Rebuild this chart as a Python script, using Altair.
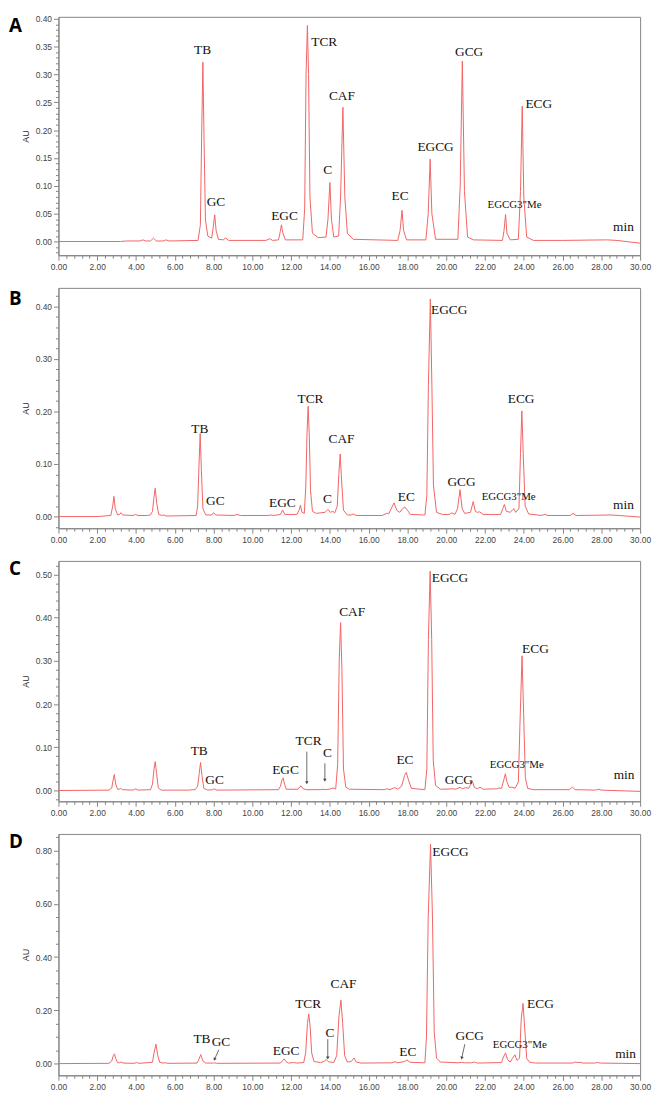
import altair as alt
import pandas as pd

# ---------------- data ----------------
# retention time (min) / absorbance (AU) points of each chromatogram trace
TRACE_A = [(0,0),(3.2,0),(3.5,0.001),(4.2,0.001),(4.35,0.003),(4.5,0.001),(4.75,0.001),(4.9,0.006),(5.05,0.001),
           (5.4,0.001),(5.55,0.003),(5.7,0.001),(7.2,0.002),
           (7.32,0.03),(7.39,0.2),(7.45,0.322),(7.51,0.18),(7.58,0.04),(7.7,0.01),
           (7.9,0.006),(7.98,0.025),(8.06,0.048),(8.13,0.02),(8.25,0.004),(8.5,0.003),(8.63,0.0065),(8.78,0.002),
           (10.7,0.002),(10.89,0.005),(11.05,0.002),
           (11.35,0.003),(11.44,0.018),(11.5,0.030),(11.57,0.016),(11.7,0.003),
           (12.6,0.003),(12.7,0.06),(12.77,0.3),(12.84,0.388),(12.9,0.3),(12.97,0.08),(13.1,0.015),(13.4,0.007),(13.8,0.008),
           (13.9,0.04),(14.0,0.106),(14.08,0.04),(14.2,0.008),(14.45,0.01),
           (14.55,0.08),(14.67,0.241),(14.77,0.08),(14.9,0.015),(15.2,0.004),(17.5,0.002),
           (17.62,0.02),(17.72,0.056),(17.8,0.02),(17.95,0.003),(18.95,0.003),
           (19.07,0.05),(19.17,0.148),(19.26,0.05),(19.45,0.004),(20.6,0.004),
           (20.72,0.1),(20.83,0.324),(20.94,0.09),(21.1,0.008),(21.4,0.003),(22.9,0.002),
           (22.98,0.02),(23.06,0.0486),(23.13,0.015),(23.3,0.003),(23.72,0.004),
           (23.83,0.09),(23.92,0.243),(24.0,0.08),(24.15,0.008),(24.5,0.002),(26.0,0.002),(28.3,0.003),(28.8,0.002),(30,-0.003)]

TRACE_B = [(0,0),(2.0,0),(2.7,0.002),(2.8,0.02),(2.86,0.0385),(2.93,0.015),(3.05,0.003),(3.15,0.004),(3.22,0.0074),(3.3,0.003),
           (3.85,0.002),(3.97,0.004),(4.1,0.002),(4.6,0.002),(4.74,0.003),(4.85,0.01),(4.92,0.035),(4.99,0.054),(5.07,0.025),
           (5.17,0.004),(5.35,0.002),(5.45,0.003),(5.55,0.001),(7.1,0.002),
           (7.18,0.02),(7.25,0.1),(7.31,0.158),(7.37,0.09),(7.45,0.015),(7.6,0.003),
           (7.9,0.003),(8.0,0.0074),(8.12,0.003),(9.05,0.002),(9.21,0.004),(9.4,0.002),(10.8,0.002),(10.95,0.003),(11.1,0.002),
           (11.45,0.004),(11.56,0.0124),(11.68,0.004),(12.3,0.004),(12.41,0.012),(12.48,0.0217),(12.56,0.008),(12.68,0.006),
           (12.76,0.06),(12.82,0.16),(12.88,0.21),(12.94,0.15),(13.0,0.05),(13.1,0.01),(13.3,0.006),(13.5,0.007),(13.75,0.008),
           (13.9,0.0136),(14.02,0.008),(14.15,0.01),(14.25,0.007),
           (14.38,0.02),(14.46,0.08),(14.53,0.119),(14.6,0.07),(14.7,0.012),(14.9,0.003),(15.1,0.003),(15.21,0.005),(15.35,0.002),
           (16.7,0.002),(16.91,0.006),(17.05,0.006),(17.2,0.018),(17.31,0.026),(17.45,0.012),(17.6,0.008),(17.75,0.015),
           (17.87,0.018),(18.0,0.012),(18.15,0.004),(18.9,0.003),
           (19.0,0.04),(19.08,0.25),(19.18,0.414),(19.26,0.25),(19.34,0.06),(19.5,0.008),(19.8,0.004),(20.15,0.004),(20.29,0.007),(20.45,0.004),
           (20.58,0.015),(20.71,0.051),(20.82,0.015),(20.95,0.006),(21.25,0.008),(21.39,0.0285),(21.5,0.01),(21.6,0.008),(21.72,0.009),
           (21.9,0.004),(22.8,0.004),(22.92,0.015),(23.0,0.023),(23.1,0.01),(23.3,0.008),(23.42,0.013),(23.49,0.015),(23.58,0.008),
           (23.75,0.015),(23.83,0.12),(23.9,0.201),(23.97,0.12),(24.07,0.02),(24.25,0.005),(24.9,0.002),(25.09,0.004),(25.25,0.002),
           (26.4,0.002),(26.54,0.006),(26.7,0.002),(28.5,0.003),(28.9,0.002),(30,-0.001)]

TRACE_C = [(0,0),(2.6,0.001),(2.75,0.006),(2.82,0.025),(2.88,0.037),(2.95,0.015),(3.05,0.003),(3.12,0.003),(3.21,0.005),(3.3,0.002),
           (3.85,0.001),(3.98,0.004),(4.1,0.001),(4.75,0.002),(4.85,0.015),(4.93,0.05),(4.99,0.067),(5.06,0.04),(5.15,0.006),
           (5.3,0.001),(6.75,0.001),(6.89,0.002),(7.05,0.002),
           (7.18,0.01),(7.26,0.04),(7.33,0.065),(7.4,0.035),(7.5,0.005),(7.7,0.001),(7.95,0.002),(8.04,0.004),(8.15,0.001),(11.35,0.002),
           (11.45,0.01),(11.53,0.025),(11.59,0.0294),(11.66,0.015),(11.75,0.003),(12.35,0.003),(12.45,0.009),(12.52,0.0106),
           (12.62,0.004),(12.81,0.002),(13.5,0.002),(13.65,0.003),(13.8,0.002),(14.05,0.004),(14.16,0.006),(14.3,0.004),
           (14.4,0.06),(14.48,0.3),(14.55,0.389),(14.62,0.28),(14.7,0.05),(14.82,0.008),(15.0,0.003),(16.8,0.002),(16.95,0.004),
           (17.1,0.002),(17.34,0.007),(17.5,0.003),(17.7,0.01),(17.85,0.035),(17.94,0.042),(18.05,0.025),(18.2,0.005),(18.9,0.002),
           (19.0,0.05),(19.08,0.35),(19.17,0.508),(19.25,0.35),(19.33,0.07),(19.45,0.012),(19.7,0.003),(20.34,0.004),(20.5,0.003),
           (20.71,0.0075),(20.85,0.004),(21.0,0.007),(21.15,0.005),(21.28,0.015),(21.35,0.022),(21.44,0.008),(21.6,0.004),
           (21.74,0.008),(21.9,0.003),(22.6,0.004),(22.71,0.006),(22.85,0.005),(22.97,0.025),(23.05,0.039),(23.13,0.02),
           (23.25,0.007),(23.39,0.008),(23.55,0.005),(23.72,0.02),
           (23.8,0.15),(23.91,0.312),(23.99,0.18),(24.08,0.03),(24.2,0.005),(24.5,0.002),(26.35,0.002),(26.51,0.008),(26.65,0.002),
           (27.7,0.001),(27.87,0.003),(28.0,0.001),(30,-0.002)]

TRACE_D = [(0,0),(2.6,0.001),(2.75,0.01),(2.83,0.03),(2.89,0.0366),(2.95,0.02),(3.05,0.004),(3.15,0.003),(3.23,0.006),(3.33,0.002),
           (3.9,0.001),(4.03,0.004),(4.15,0.001),(4.85,0.005),(4.93,0.04),(5.03,0.073),(5.11,0.035),(5.22,0.005),(5.4,0.002),
           (5.52,0.003),(5.65,0.001),(7.15,0.002),
           (7.22,0.012),(7.34,0.034),(7.45,0.01),(7.6,0.002),(8.0,0.002),(8.05,0.003),(8.15,0.001),(11.45,0.002),
           (11.55,0.01),(11.64,0.018),(11.74,0.008),(11.85,0.002),(12.12,0.004),(12.3,0.002),(12.65,0.004),
           (12.75,0.04),(12.84,0.15),(12.91,0.186),(12.98,0.14),(13.06,0.04),(13.18,0.008),(13.5,0.004),(13.7,0.008),(13.81,0.015),
           (13.92,0.007),(14.2,0.004),
           (14.35,0.03),(14.47,0.18),(14.57,0.238),(14.66,0.15),(14.76,0.03),(14.9,0.006),(15.1,0.008),(15.24,0.021),(15.36,0.006),
           (15.6,0.002),(17.2,0.003),(17.36,0.007),(17.5,0.003),(17.85,0.008),(17.99,0.0135),(18.12,0.005),(18.9,0.003),
           (18.98,0.1),(19.07,0.55),(19.19,0.824),(19.29,0.55),(19.38,0.12),(19.5,0.02),(19.7,0.006),(20.6,0.003),(20.8,0.005),
           (20.95,0.003),(21.3,0.003),(21.46,0.006),(21.6,0.002),(22.85,0.004),(22.95,0.025),(23.06,0.04),(23.16,0.015),(23.3,0.006),
           (23.42,0.02),(23.54,0.033),(23.65,0.012),(23.78,0.02),
           (23.87,0.17),(23.96,0.226),(24.05,0.13),(24.15,0.02),(24.3,0.005),(24.6,0.002),(26.5,0.002),(26.67,0.006),(26.78,0.004),
           (26.9,0.005),(27.05,0.002),(27.65,0.002),(27.8,0.004),(27.95,0.002),(30,0.0)]

# peak labels (name, retention time, AU of the label centre)
LAB_NAMES = ["TB", "GC", "EGC", "TCR", "C", "CAF", "EC", "EGCG", "GCG", 'EGCG3"Me', "ECG", "min"]
LAB_T_A = [7.43, 8.12, 11.66, 13.71, 13.89, 14.62, 17.62, 19.45, 21.18, 23.52, 24.77, 29.14]
LAB_Y_A = [0.344, 0.071, 0.046, 0.359, 0.128, 0.261, 0.082, 0.169, 0.341, 0.065, 0.246, 0.026]
LAB_T_B = [7.29, 8.09, 11.55, 13.0, 13.88, 14.6, 17.94, 20.15, 20.79, 23.22, 23.86, 29.14]
LAB_Y_B = [0.167, 0.029, 0.026, 0.2245, 0.034, 0.147, 0.037, 0.394, 0.066, 0.037, 0.2245, 0.021]
LAB_T_C = [7.26, 8.05, 11.71, 12.9, 13.88, 15.15, 17.87, 20.19, 20.65, 23.64, 24.6, 29.17]
LAB_Y_C = [0.092, 0.024, 0.048, 0.115, 0.086, 0.414, 0.071, 0.493, 0.024, 0.0595, 0.327, 0.037]
LAB_T_D = [7.4, 8.38, 11.74, 12.88, 14.0, 14.7, 18.02, 20.22, 21.21, 23.79, 24.86, 29.25]
LAB_Y_D = [0.094, 0.0795, 0.0465, 0.2235, 0.114, 0.297, 0.045, 0.794, 0.104, 0.0696, 0.2235, 0.0366]

# pointer arrows (t start, AU start, t end, AU end, head tilt)
ARROWS_C = [(12.81, 0.090, 12.81, 0.018, 0), (13.74, 0.063, 13.74, 0.024, 0)]
ARROWS_D = [(8.27, 0.052, 8.05, 0.016, 24), (13.89, 0.092, 13.89, 0.021, 0), (20.96, 0.073, 20.8, 0.021, 13)]

# axis ticks
X_DOMAIN = [0, 30]
X_MAJOR_STEP, X_MINOR_STEP = 2, 0.4
Y_DOMAINS = {"A": [-0.0246, 0.4035], "B": [-0.0223, 0.4353], "C": [-0.0249, 0.5317], "D": [-0.044, 0.8624]}
Y_MAJOR_STEP = {"A": 0.05, "B": 0.10, "C": 0.10, "D": 0.20}
Y_MINOR_STEP = {"A": 0.01, "B": 0.02, "C": 0.02, "D": 0.05}

LINE_COLOR = "#f26464"
FRAME = "#858585"


def tick_values(lo, hi, step):
    k0 = int(round(lo / step)) - 1
    k1 = int(round(hi / step)) + 1
    return [round(k * step, 4) for k in range(k0, k1 + 1) if lo - 1e-9 <= k * step <= hi + 1e-9]


def is_major(step):
    return f"abs(datum.value/{step} - round(datum.value/{step})) < 1e-6"


def panel(letter, letter_y, trace, lab_t, lab_y, arrows, width, height):
    ydom = Y_DOMAINS[letter]
    ymaj, ymin = Y_MAJOR_STEP[letter], Y_MINOR_STEP[letter]
    xvals = tick_values(X_DOMAIN[0], X_DOMAIN[1], X_MINOR_STEP)
    yvals = tick_values(ydom[0], ydom[1], ymin)

    x_enc = alt.X("t:Q", scale=alt.Scale(domain=X_DOMAIN, nice=False, zero=False),
                  axis=alt.Axis(values=xvals, title=None, labelFlush=False, labelOverlap=False,
                                labelExpr=f"{is_major(X_MAJOR_STEP)} ? format(datum.value, '.2f') : ''",
                                tickSize={"condition": {"test": is_major(X_MAJOR_STEP), "value": 5}, "value": 3}))
    y_enc = alt.Y("au:Q", scale=alt.Scale(domain=ydom, nice=False, zero=False),
                  axis=alt.Axis(values=yvals, title="AU", labelOverlap=False, titlePadding=5,
                                labelExpr=f"{is_major(ymaj)} ? format(datum.value, '.2f') : ''",
                                tickSize={"condition": {"test": is_major(ymaj), "value": 5}, "value": 3}))

    tdf = pd.DataFrame(trace, columns=["t", "au"])
    line = alt.Chart(tdf).mark_line(color=LINE_COLOR, strokeWidth=1, clip=True).encode(x=x_enc, y=y_enc)

    ldf = pd.DataFrame({"name": LAB_NAMES, "t": lab_t, "au": lab_y})
    labels = alt.Chart(ldf).mark_text(font="Liberation Serif", color="#111111", baseline="middle", align="center").encode(
        x=x_enc, y=y_enc, text="name:N",
        size=alt.condition("indexof(datum.name, 'Me') >= 0", alt.value(11), alt.value(13.5)))

    ltr = alt.Chart(pd.DataFrame({"letter": [letter]})).mark_text(
        font="Open Sans", fontWeight="bold", fontSize=19, align="left", baseline="middle", color="#000000"
    ).encode(text="letter:N", x=alt.value(-50), y=alt.value(letter_y))

    layers = [line, labels, ltr]
    if arrows:
        adf = pd.DataFrame(arrows, columns=["t", "au", "t2", "au2", "ang"])
        rule = alt.Chart(adf).mark_rule(color="#444444", strokeWidth=0.8).encode(
            x=x_enc, y=y_enc, x2="t2:Q", y2="au2:Q")
        hdf = adf[["t2", "au2", "ang"]].rename(columns={"t2": "t", "au2": "au"})
        head = alt.Chart(hdf).mark_point(shape="triangle-down", filled=True, size=12, color="#444444", opacity=1).encode(
            x=x_enc, y=y_enc, angle=alt.Angle("ang:Q", scale=None))
        layers += [rule, head]
    return alt.layer(*layers).properties(width=width, height=height)


W = 588
pA = panel("A", 9, TRACE_A, LAB_T_A, LAB_Y_A, [], W, 241)
pB = panel("B", 11, TRACE_B, LAB_T_B, LAB_Y_B, [], W, 243)
pC = panel("C", 8, TRACE_C, LAB_T_C, LAB_Y_C, ARROWS_C, W, 243)
pD = panel("D", 8, TRACE_D, LAB_T_D, LAB_Y_D, ARROWS_D, W, 244)

chart = alt.vconcat(pA, pB, pC, pD, spacing=33, bounds="flush").properties(
    padding={"left": 0, "top": 0, "right": 0, "bottom": 0}
).configure_view(stroke=FRAME, strokeWidth=1).configure_axis(
    domainColor=FRAME, tickColor=FRAME, domainWidth=1, tickWidth=1, grid=False,
    labelColor="#444444", labelFont="Liberation Sans", labelFontSize=8.5, labelPadding=2,
    titleFont="Liberation Sans", titleFontSize=9, titleFontWeight="normal", titleColor="#333333"
)

chart.save("out.html", embed_options={"renderer": "svg", "actions": False})
